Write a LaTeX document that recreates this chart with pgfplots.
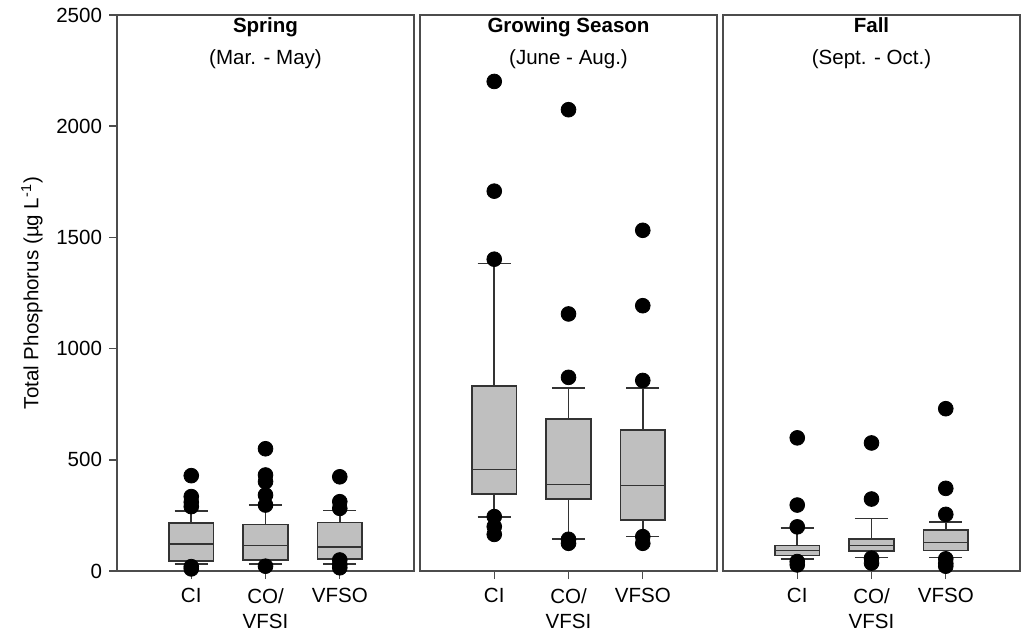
\documentclass[border=0pt]{standalone}
\usepackage{fontspec}
\setmainfont{Liberation Sans}
\usepackage{pgfplots}
\pgfplotsset{compat=1.18}
\usepgfplotslibrary{groupplots,statistics}

\begin{document}
\begin{tikzpicture}
\pgfplotsset{
  bp/.style={draw=black!80, fill=black!25, line width=0.8pt, solid, mark=none},
  out/.style={only marks, mark=*, mark size=3.7pt, mark options={fill=black, draw=black}},
}
\begin{groupplot}[
  group style={group size=3 by 1, horizontal sep=3pt},
  scale only axis, width=149pt, height=279pt,
  xmin=0, xmax=4, ymin=0, ymax=2500,
  xtick={1,2,3}, xticklabels={CI,{CO/\\VFSI},VFSO},
  xticklabel style={align=center, yshift=-1.2pt, font=\fontsize{10.3}{12.5}\selectfont},
  yticklabel style={font=\fontsize{10.3}{12}\selectfont},
  /pgf/number format/assume math mode=true,
  /pgf/number format/1000 sep={},
  tick align=outside, xtick pos=left, ytick pos=left,
  axis line style={black!70, line width=0.7pt},
  major tick style={black!70, line width=0.7pt},
  major tick length=4pt,
  boxplot/draw direction=y,
  boxplot/box extend=0.6, boxplot/whisker extend=0.45,
  clip=false,
  title style={at={(0.5,1)}, anchor=north, yshift=-4pt, align=center,
    font=\fontsize{10.3}{16}\selectfont},
]
\nextgroupplot[ytick={0,500,1000,1500,2000,2500},
  ylabel={Total Phosphorus (µg L\textsuperscript{-1})},
  ylabel style={font=\fontsize{10.3}{12}\selectfont},
  title={\textbf{Spring}\\(Mar. - May)}]
\addplot[bp, boxplot prepared={lower whisker=31, lower quartile=46, median=121,
  upper quartile=215, upper whisker=270, draw position=1}] coordinates {};
\addplot[bp, boxplot prepared={lower whisker=31, lower quartile=51, median=115,
  upper quartile=210, upper whisker=296, draw position=2}] coordinates {};
\addplot[bp, boxplot prepared={lower whisker=31, lower quartile=55, median=108,
  upper quartile=218, upper whisker=272, draw position=3}] coordinates {};
\addplot[out] coordinates {(1,429) (1,335) (1,310) (1,290) (1,20) (1,10)
  (2,550) (2,432) (2,402) (2,342) (2,297) (2,22)
  (3,424) (3,312) (3,282) (3,50) (3,30) (3,15)};

\nextgroupplot[ytick=\empty, title={\textbf{Growing Season}\\(June - Aug.)}]
\addplot[bp, boxplot prepared={lower whisker=242, lower quartile=346, median=457,
  upper quartile=832, upper whisker=1383, draw position=1}] coordinates {};
\addplot[bp, boxplot prepared={lower whisker=143, lower quartile=324, median=390,
  upper quartile=685, upper whisker=823, draw position=2}] coordinates {};
\addplot[bp, boxplot prepared={lower whisker=155, lower quartile=230, median=384,
  upper quartile=633, upper whisker=823, draw position=3}] coordinates {};
\addplot[out] coordinates {(1,2201) (1,1708) (1,1402) (1,245) (1,200) (1,165)
  (2,2074) (2,1156) (2,871) (2,143) (2,125)
  (3,1532) (3,1193) (3,857) (3,155) (3,125)};

\nextgroupplot[ytick=\empty, title={\textbf{Fall}\\(Sept. - Oct.)}]
\addplot[bp, boxplot prepared={lower whisker=54, lower quartile=70, median=93,
  upper quartile=116, upper whisker=193, draw position=1}] coordinates {};
\addplot[bp, boxplot prepared={lower whisker=61, lower quartile=91, median=115,
  upper quartile=145, upper whisker=237, draw position=2}] coordinates {};
\addplot[bp, boxplot prepared={lower whisker=61, lower quartile=93, median=128,
  upper quartile=184, upper whisker=221, draw position=3}] coordinates {};
\addplot[out] coordinates {(1,599) (1,297) (1,199) (1,43) (1,28)
  (2,576) (2,324) (2,58) (2,36)
  (3,730) (3,372) (3,255) (3,55) (3,35) (3,22)};
\end{groupplot}
% page the same size as the reference figure (its bottom cuts through the second line of labels)
\pgfresetboundingbox
\path ([xshift=-58.7pt,yshift=-29.6pt]group c1r1.south west)
  rectangle ([xshift=2pt,yshift=7.5pt]group c3r1.north east);
\end{tikzpicture}
\end{document}
